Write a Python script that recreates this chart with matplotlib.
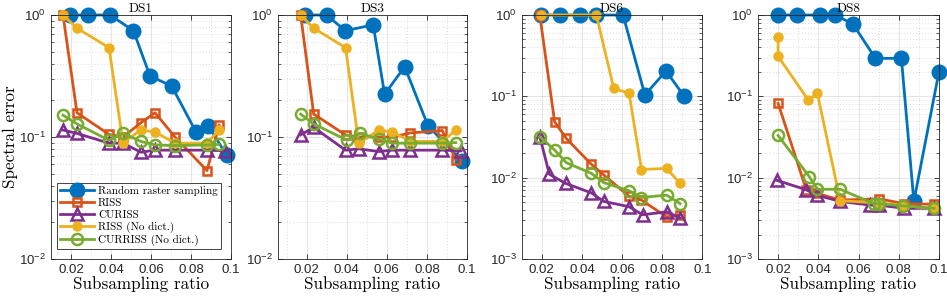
import matplotlib
matplotlib.use("Agg")
import matplotlib.pyplot as plt
from matplotlib.ticker import MultipleLocator, LogLocator, NullFormatter, FixedLocator

# ---------------- data ----------------
titles = ["DS1", "DS3", "DS6", "DS8"]
series_names = ["Random raster sampling", "RISS", "CURISS", "RISS (No dict.)", "CURRISS (No dict.)"]

# DS1
ds1_rand_x = [0.0195, 0.0287, 0.0395, 0.0512, 0.0595, 0.0703, 0.0825, 0.0887, 0.0978]
ds1_rand_y = [1.0, 1.0, 1.0, 0.744, 0.316, 0.262, 0.110, 0.123, 0.071]
ds1_riss_x = [0.016, 0.023, 0.039, 0.046, 0.055, 0.062, 0.072, 0.088, 0.094]
ds1_riss_y = [1.0, 0.158, 0.105, 0.100, 0.131, 0.158, 0.100, 0.053, 0.125]
ds1_curiss_x = [0.016, 0.023, 0.039, 0.046, 0.055, 0.062, 0.072, 0.088, 0.097]
ds1_curiss_y = [0.114, 0.107, 0.089, 0.089, 0.075, 0.078, 0.078, 0.078, 0.077]
ds1_rissnd_x = [0.016, 0.023, 0.039, 0.046, 0.055, 0.062, 0.072, 0.088, 0.094]
ds1_rissnd_y = [1.0, 0.78, 0.54, 0.090, 0.114, 0.110, 0.089, 0.089, 0.114]
ds1_curnd_x = [0.016, 0.023, 0.039, 0.046, 0.055, 0.062, 0.072, 0.088, 0.094]
ds1_curnd_y = [0.151, 0.128, 0.094, 0.107, 0.092, 0.086, 0.085, 0.086, 0.087]

# DS3
ds3_rand_x = [0.0194, 0.0299, 0.0393, 0.0532, 0.0589, 0.0689, 0.0805, 0.0977]
ds3_rand_y = [1.0, 1.0, 0.744, 0.83, 0.224, 0.377, 0.124, 0.063]
ds3_riss_x = [0.017, 0.0235, 0.0394, 0.046, 0.056, 0.0627, 0.0718, 0.0877, 0.0944]
ds3_riss_y = [1.0, 0.154, 0.104, 0.100, 0.100, 0.100, 0.108, 0.113, 0.065]
ds3_curiss_x = [0.017, 0.0235, 0.0394, 0.046, 0.056, 0.0627, 0.0718, 0.0877, 0.097]
ds3_curiss_y = [0.104, 0.120, 0.078, 0.080, 0.076, 0.078, 0.078, 0.078, 0.077]
ds3_rissnd_x = [0.017, 0.0235, 0.0394, 0.046, 0.056, 0.0627, 0.0718, 0.0877, 0.0944]
ds3_rissnd_y = [1.0, 0.78, 0.54, 0.089, 0.114, 0.110, 0.092, 0.092, 0.114]
ds3_curnd_x = [0.017, 0.0235, 0.0402, 0.0465, 0.056, 0.0627, 0.0718, 0.0877, 0.0944]
ds3_curnd_y = [0.154, 0.128, 0.094, 0.107, 0.096, 0.089, 0.089, 0.089, 0.090]

# DS6
ds6_rand_x = [0.0197, 0.0289, 0.0389, 0.0472, 0.0605, 0.0714, 0.0819, 0.0909]
ds6_rand_y = [1.0, 1.0, 1.0, 1.0, 1.0, 0.104, 0.205, 0.101]
ds6_riss_x = [0.019, 0.0264, 0.0322, 0.0447, 0.0509, 0.0635, 0.0697, 0.0822, 0.0889]
ds6_riss_y = [1.0, 0.0487, 0.0304, 0.0146, 0.0108, 0.0059, 0.0053, 0.0033, 0.0035]
ds6_curiss_x = [0.019, 0.0238, 0.0319, 0.0447, 0.0509, 0.0635, 0.0702, 0.0822, 0.089]
ds6_curiss_y = [0.032, 0.011, 0.0085, 0.0065, 0.0051, 0.0044, 0.0035, 0.0038, 0.0032]
ds6_rissnd_x = [0.0197, 0.0472, 0.0559, 0.0635, 0.0697, 0.0822, 0.0889]
ds6_rissnd_y = [1.0, 1.0, 0.125, 0.109, 0.0126, 0.013, 0.0085]
ds6_curnd_x = [0.019, 0.0264, 0.0322, 0.0447, 0.0509, 0.0635, 0.0697, 0.0822, 0.0889]
ds6_curnd_y = [0.0319, 0.0219, 0.0153, 0.0113, 0.0087, 0.0069, 0.0057, 0.0061, 0.0048]

# DS8
ds8_rand_x = [0.020, 0.0292, 0.0408, 0.0484, 0.0572, 0.0684, 0.0813, 0.0875, 0.100]
ds8_rand_y = [1.0, 1.0, 1.0, 1.0, 0.775, 0.293, 0.293, 0.0051, 0.201]
ds8_riss_x = [0.020, 0.034, 0.0395, 0.0509, 0.070, 0.0825, 0.0975]
ds8_riss_y = [0.082, 0.0071, 0.0064, 0.0053, 0.0055, 0.0048, 0.0047]
ds8_curiss_x = [0.0192, 0.034, 0.0392, 0.0509, 0.0659, 0.070, 0.0825, 0.0975]
ds8_curiss_y = [0.0093, 0.0071, 0.0061, 0.0051, 0.0046, 0.0046, 0.0042, 0.0042]
ds8_rissnd_x = [0.020, 0.020, 0.035, 0.0395, 0.0509, 0.070, 0.0825, 0.0975]
ds8_rissnd_y = [0.53, 0.31, 0.090, 0.109, 0.0052, 0.0049, 0.0045, 0.0042]
ds8_curnd_x = [0.020, 0.0355, 0.0395, 0.0509, 0.0675, 0.070, 0.0822, 0.0975]
ds8_curnd_y = [0.033, 0.0103, 0.0072, 0.0072, 0.0048, 0.0048, 0.0045, 0.0042]

panels = [
    [(ds1_rand_x, ds1_rand_y), (ds1_riss_x, ds1_riss_y), (ds1_curiss_x, ds1_curiss_y),
     (ds1_rissnd_x, ds1_rissnd_y), (ds1_curnd_x, ds1_curnd_y)],
    [(ds3_rand_x, ds3_rand_y), (ds3_riss_x, ds3_riss_y), (ds3_curiss_x, ds3_curiss_y),
     (ds3_rissnd_x, ds3_rissnd_y), (ds3_curnd_x, ds3_curnd_y)],
    [(ds6_rand_x, ds6_rand_y), (ds6_riss_x, ds6_riss_y), (ds6_curiss_x, ds6_curiss_y),
     (ds6_rissnd_x, ds6_rissnd_y), (ds6_curnd_x, ds6_curnd_y)],
    [(ds8_rand_x, ds8_rand_y), (ds8_riss_x, ds8_riss_y), (ds8_curiss_x, ds8_curiss_y),
     (ds8_rissnd_x, ds8_rissnd_y), (ds8_curnd_x, ds8_curnd_y)],
]
xlims = [(0.01, 0.1), (0.0057, 0.1), (0.01, 0.1), (0.01, 0.1)]
ylims = [(0.01, 1), (0.01, 1), (0.001, 1), (0.001, 1)]

# ---------------- style ----------------
plt.rcParams['font.family'] = ['Liberation Sans', 'DejaVu Sans']
plt.rcParams['mathtext.fontset'] = 'custom'
plt.rcParams['mathtext.rm'] = 'Liberation Sans'
plt.rcParams['mathtext.it'] = 'Liberation Sans'
serif = ['cmr10', 'DejaVu Serif']

colors = ['#0072BD', '#D95319', '#7E2F8E', '#EDB120', '#77AC30']
styles = [
    dict(marker='o', ms=10.5, mfc=colors[0], mec=colors[0], mew=1.0),
    dict(marker='s', ms=6.0, mfc='none', mec=colors[1], mew=1.8),
    dict(marker='^', ms=8.0, mfc='none', mec=colors[2], mew=1.8),
    dict(marker='o', ms=6.5, mfc=colors[3], mec=colors[3], mew=1.0),
    dict(marker='o', ms=8.0, mfc='none', mec=colors[4], mew=1.8),
]

fig = plt.figure(figsize=(9.47, 2.98), dpi=100)
W, H = 947.0, 298.0
lefts_px = [51, 278, 521.7, 758]
widths_px = [180, 189, 180.6, 181]
top_px, bot_px = 15, 259

for i in range(4):
    ax = fig.add_axes([lefts_px[i] / W, 1 - bot_px / H, widths_px[i] / W, (bot_px - top_px) / H])
    for j, (xs, ys) in enumerate(panels[i]):
        ax.plot(xs, ys, color=colors[j], lw=2.0, label=series_names[j], clip_on=False,
                zorder=2 + j * 0.01, **styles[j])
    ax.set_yscale('log')
    ax.set_xlim(*xlims[i])
    ax.set_ylim(*ylims[i])
    ax.xaxis.set_major_locator(FixedLocator([0.02, 0.04, 0.06, 0.08, 0.1]))
    ax.set_xticklabels(['0.02', '0.04', '0.06', '0.08', '0.1'])
    ax.xaxis.set_minor_locator(MultipleLocator(0.01))
    ax.yaxis.set_major_locator(LogLocator(base=10, numticks=10))
    ax.yaxis.set_minor_locator(LogLocator(base=10, subs=range(2, 10), numticks=10))
    ax.yaxis.set_minor_formatter(NullFormatter())
    ax.grid(True, which='major', color='#000000', alpha=0.12, lw=0.6, ls='-')
    ax.grid(True, which='minor', color='#000000', alpha=0.18, lw=0.6, ls=(0, (1, 2.5)))
    ax.set_axisbelow(True)
    ax.tick_params(which='both', direction='in', top=True, right=True, colors='#262626',
                   labelsize=9.5, labelcolor='#262626')
    ax.tick_params(which='major', length=3.5, width=0.6)
    ax.tick_params(which='minor', length=2, width=0.5)
    ax.tick_params(axis='x', which='minor', length=0)
    for s in ax.spines.values():
        s.set_color('#262626')
        s.set_linewidth(0.6)
    ax.set_title(titles[i], fontsize=9.5, family=serif, pad=2)
    ax.set_xlabel('Subsampling ratio', fontsize=12.3, family=serif, labelpad=0)
    if i == 0:
        ax.set_ylabel('Spectral error', fontsize=12.3, family=serif, labelpad=1)
        leg = ax.legend(loc='lower left', bbox_to_anchor=(0.033, 0.041), borderaxespad=0,
                        prop={'family': serif, 'size': 8}, handlelength=3.1,
                        handletextpad=0.35, labelspacing=0.18, borderpad=0.25,
                        fancybox=False, framealpha=1, edgecolor='#262626')
        leg.get_frame().set_linewidth(0.6)
        leg.set_zorder(10)

fig.savefig('out.png', dpi=100)
